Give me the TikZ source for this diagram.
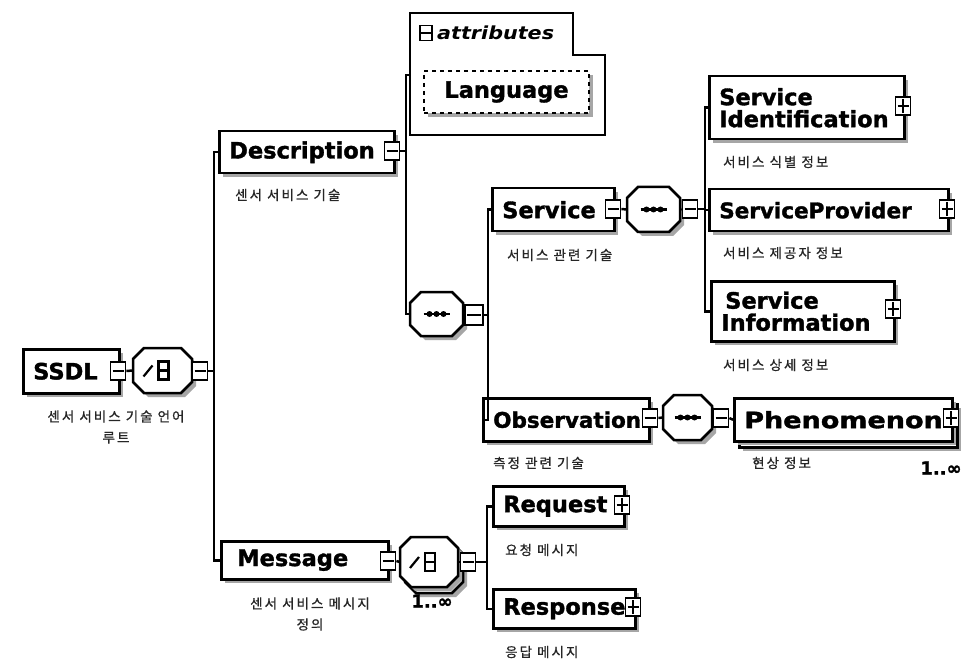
\documentclass[tikz,border=0pt]{standalone}
\usepackage{fontspec}
\usepackage{graphicx}
\setmainfont{DejaVu Sans}[BoldFeatures={FakeBold=1.5}]
\newfontfamily\kr[LetterSpace=15,FakeBold=0.8]{Noto Sans CJK KR}
\usetikzlibrary{shadows}
\tikzset{
  shad/.style={drop shadow={shadow xshift=4pt,shadow yshift=-4pt,fill=black!35,opacity=1,draw=none}},
  elem/.style={draw,line width=2.5pt,fill=white,shad,anchor=north west,inner xsep=10pt,inner ysep=0pt,align=left,font=\fontsize{22.5}{22}\selectfont\bfseries},
  pm/.style={draw,line width=1.8pt,fill=white,minimum width=15pt,minimum height=18pt,inner sep=0pt},
  minus/.style={pm,path picture={\draw[line width=1.8pt] ([xshift=2pt]path picture bounding box.west) -- ([xshift=-2pt]path picture bounding box.east);}},
  plus/.style={pm,path picture={\draw[line width=1.8pt] ([xshift=2pt]path picture bounding box.west) -- ([xshift=-2pt]path picture bounding box.east) ([yshift=-2pt]path picture bounding box.north) -- ([yshift=2pt]path picture bounding box.south);}},
  octline/.style={line width=2.5pt,fill=white},
  octshad/.style={fill=black!35,shift={(4,4)}},
  icon/.style={line width=2.2pt},
  conn/.style={line width=2.5pt},
  lbl/.style={anchor=west,inner sep=0pt,font=\kr\fontsize{13.5}{21}\selectfont,text=black!85},
  mult/.style={anchor=center,inner sep=0pt,font=\fontsize{18}{18}\selectfont\bfseries},
}
% octagon outline of width #1, height #2, corner cut 11
\newcommand\octpath[2]{({-#1/2+11},{-#2/2}) -- ({#1/2-11},{-#2/2}) -- ({#1/2},{-#2/2+11}) -- ({#1/2},{#2/2-11}) -- ({#1/2-11},{#2/2}) -- ({-#1/2+11},{#2/2}) -- ({-#1/2},{#2/2-11}) -- ({-#1/2},{-#2/2+11}) -- cycle}
% name, cx, cy, w, h, icon (0 none, 1 sequence, 2 choice)
\newcommand\octo[6]{%
  \begin{scope}[shift={(#2,#3)}]
    \fill[octshad] \octpath{#4}{#5};
    \draw[octline] \octpath{#4}{#5};
    \node[minimum width=#4pt,minimum height=#5pt,inner sep=0pt] (#1) at (0,0) {};
    \ifcase#6\relax
    \or
      \draw[icon] (-13,0) -- (13,0);
      \foreach \d in {-7,0,7} \fill (\d,0) circle[radius=3pt];
    \or
      \draw[icon] (-19,6) -- (-10,-5);
      \draw[icon] (-4,-9) rectangle (6,9);
      \draw[icon] (-4,0) -- (6,0);
    \fi
  \end{scope}}
\begin{document}
\begin{tikzpicture}[x=1pt,y=-1pt]
\fill[white] (0,0) rectangle (964,663);
\useasboundingbox (0,0) rectangle (964,663);

% ---------- SSDL ----------
\node[elem,minimum height=44pt,text width=76pt] (ssdl) at (22,348) {SSDL};
\node[minus] (ssdlm) at (118,371) {};
\octo{ssdlc}{162.5}{370.5}{59}{45}{2}
\node[minus] (ssdlcm) at (200,371) {};
\coordinate (b1) at (214,0);

% ---------- Description ----------
\node[elem,minimum height=42pt,text width=155pt] (desc) at (218,130) {Description};
\node[minus] (descm) at (392,151) {};
\coordinate (b2) at (406,0);
\coordinate (attrL) at (410,75);

% attributes container
\draw[line width=2pt] (410,13) -- (573,13) -- (573,55) -- (605,55) -- (605,135) -- (410,135) -- cycle;
\node[draw,line width=1.6pt,minimum width=12pt,minimum height=15pt,inner sep=0pt,
      path picture={\draw[line width=1.6pt] (path picture bounding box.west) -- (path picture bounding box.east);}] (attricon) at (426,33) {};
\node[anchor=west,inner sep=0pt,font=\fontsize{18}{18}\selectfont\bfseries\itshape] (attrtext) at (437,33) {\scalebox{1.15}[1]{attributes}};
\node[draw,dash pattern=on 4pt off 4pt,line width=2pt,fill=white,shad,anchor=north west,minimum width=165pt,minimum height=42pt,inner sep=0pt,font=\fontsize{22.5}{22}\selectfont\bfseries] (lang) at (423,70) {Language};

% sequence under Description
\octo{seq1}{436.5}{314}{53}{44}{1}
\node[minus,minimum width=18pt,minimum height=20pt] (seq1m) at (474,315) {};
\coordinate (b3) at (488,0);

% ---------- Service ----------
\node[elem,minimum height=43pt,text width=102pt] (serv) at (491,187) {Service};
\node[minus] (servm) at (613,209) {};
\octo{servs}{653.5}{209.5}{53}{45}{1}
\node[minus] (servsm) at (690,209) {};
\coordinate (b4) at (705,0);

\node[elem,minimum height=63pt,text width=175pt] (sid) at (708,75) {Service\\Identification};
\node[plus] (sidp) at (903,106) {};
\node[elem,minimum height=42pt,text width=219pt,font=\fontsize{21.5}{22}\selectfont\bfseries] (sprov) at (708,188) {ServiceProvider};
\node[plus] (sprovp) at (947,209) {};
\node[elem,minimum height=60pt,text width=163pt] (sinfo) at (710,280) {\hspace*{4pt}Service\\Information};
\node[plus] (sinfop) at (893,309) {};

% ---------- Observation ----------
\node[elem,minimum height=43pt,text width=146pt,font=\fontsize{21.5}{22}\selectfont\bfseries] (obs) at (482,397) {Observation};
\node[minus] (obsm) at (650,418) {};
\octo{obss}{687.5}{417.5}{49}{45}{1}
\node[minus] (obssm) at (721,418) {};
\node[elem,minimum height=43pt,minimum width=218pt] (phenb) at (738,403) {};
\node[elem,minimum height=43pt,text width=198pt] (phen) at (733,397) {\scalebox{1.2}[1]{Phenomenon}};
\node[plus] (phenp) at (951,418) {};

% ---------- Message ----------
\node[elem,minimum height=38pt,text width=147pt] (msg) at (220,540) {\hspace*{6pt}Message};
\node[minus] (msgm) at (388,561) {};
\octo{msgcb}{434}{568}{58}{50}{0}
\octo{msgc}{429}{562}{58}{50}{2}
\node[minus] (msgcm) at (468,562) {};
\coordinate (b5) at (487,0);

\node[elem,minimum height=40pt,text width=111pt] (req) at (492,485) {Request};
\node[plus] (reqp) at (622,505) {};
\node[elem,minimum height=39pt,text width=122pt] (resp) at (492,588) {Response};
\node[plus] (respp) at (633,607) {};

% ---------- short links ----------
\draw[conn] (ssdlm.east) -- (ssdlc.west);
\draw[conn] (ssdlc.east) -- (ssdlcm.west);
\draw[conn] (seq1.east) -- (seq1m.west);
\draw[conn] (servm.east) -- (servs.west);
\draw[conn] (servs.east) -- (servsm.west);
\draw[conn] (obsm.east) -- (obss.west);
\draw[conn] (obss.east) -- (obssm.west);
\draw[conn] (obssm.east) -- (phen.west);
\draw[conn] (msgm.east) -- (msgc.west);
\draw[conn] (msgc.east) -- (msgcm.west);

% ---------- buses ----------
\draw[conn] (ssdlcm.east) -- (ssdlcm.east -| b1);
\draw[conn] (desc.west) -- (desc.west -| b1) -- (msg.west -| b1) -- (msg.west);
\draw[conn] (descm.east) -- (descm.east -| b2);
\draw[conn] (attrL) -- (attrL -| b2) -- (seq1.west -| b2) -- (seq1.west);
\draw[conn] (seq1m.east) -- (seq1m.east -| b3);
\draw[conn] (serv.west) -- (serv.west -| b3) -- (obs.west -| b3) -- (obs.west);
\draw[conn] (servsm.east) -- (servsm.east -| b4);
\draw[conn] (sid.west) -- (sid.west -| b4) -- (sinfo.west -| b4) -- (sinfo.west);
\draw[conn] (sprov.west) -- (sprov.west -| b4);
\draw[conn] (msgcm.east) -- (msgcm.east -| b5);
\draw[conn] (req.west) -- (req.west -| b5) -- (resp.west -| b5) -- (resp.west);

% ---------- annotations ----------
\node[lbl,anchor=center,align=center] (ssdll) at (116,427) {센서 서비스 기술 언어\\루트};
\node[lbl] (descl) at (235,195) {센서 서비스 기술};
\node[lbl] (servl) at (507,255) {서비스 관련 기술};
\node[lbl] (sidl) at (723,162) {서비스 식별 정보};
\node[lbl] (sprovl) at (723,253) {서비스 제공자 정보};
\node[lbl] (sinfol) at (723,365) {서비스 상세 정보};
\node[lbl] (obsl) at (493,463) {측정 관련 기술};
\node[lbl] (phenl) at (752,463) {현상 정보};
\node[lbl,anchor=center,align=center] (msgl) at (310,614) {센서 서비스 메시지\\정의};
\node[lbl] (reql) at (505,550) {요청 메시지};
\node[lbl] (respl) at (505,652) {응답 메시지};
\node[mult] (phenmult) at (941,468) {1..∞};
\node[mult] (msgmult) at (432,601) {1..∞};
\end{tikzpicture}
\end{document}
